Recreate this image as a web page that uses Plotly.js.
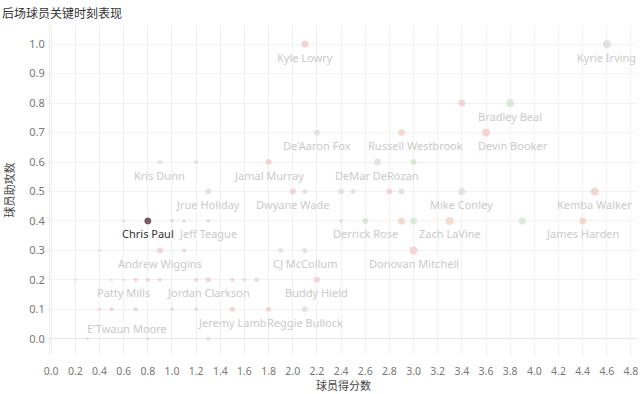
<!DOCTYPE html>
<html>
<head>
<meta charset="utf-8">
<script src="https://cdn.plot.ly/plotly-3.0.1.min.js"></script>
<style>html,body{margin:0;padding:0;background:#fff}#chart{width:640px;height:394px}</style>
</head>
<body>
<div id="chart"></div>
<script>
// Points: points scored (x) and assists (y), group for colour, size class
var pointX = [2.1,4.6, 3.4,3.8, 2.2,2.9,3.6,
  0.9,1.2,1.8,2.7,3.0,
  1.3,2.0,2.1,2.4,2.5,2.8,2.9,3.4,4.5,
  0.6,0.8,1.0,1.1,1.3,2.4,2.6,2.9,3.0,3.3,3.9,4.4,
  0.4,0.9,1.1,1.9,2.1,3.0,
  0.2,0.5,0.6,0.7,0.8,0.9,1.2,1.3,1.5,1.6,1.7,2.2,
  0.4,0.5,0.7,1.0,1.2,1.5,1.8,2.1,
  0.3,0.8,1.3];
var pointY = [1.0,1.0, 0.8,0.8, 0.7,0.7,0.7,
  0.6,0.6,0.6,0.6,0.6,
  0.5,0.5,0.5,0.5,0.5,0.5,0.5,0.5,0.5,
  0.4,0.4,0.4,0.4,0.4,0.4,0.4,0.4,0.4,0.4,0.4,0.4,
  0.3,0.3,0.3,0.3,0.3,0.3,
  0.2,0.2,0.2,0.2,0.2,0.2,0.2,0.2,0.2,0.2,0.2,0.2,
  0.1,0.1,0.1,0.1,0.1,0.1,0.1,0.1,
  0.0,0.0,0.0];
var pointGroup = ["pink","gray","pink","green","gray","salmon","pink",
  "gray","gray","pink","gray","green",
  "gray","pink","gray","gray","gray","pink","gray","gray","pink",
  "gray","dark","gray","gray","gray","gray","green","salmon","green","salmon","green","salmon",
  "gray","pink","pink","gray","gray","pink",
  "gray","gray","gray","pink","pink","pink","pink","pink","pink","gray","gray","pink",
  "pink","pink","pink","gray","gray","pink","pink","gray",
  "gray","gray","gray"];
var pointSize = [7,8,7,8,6,7,8,
  4,4,6,7,6,
  6,6,5,6,5,6,6,7,8,
  3,6,4,4,4,4,6,7,7,8,7,7,
  3,6,4,5,5,8,
  3,3,3,4,4,4,4,5,4,4,5,6,
  3,4,4,4,4,5,5,6,
  3,3,4];

// Player labels (anchored at the player's point)
var labelNames = ["Kyle Lowry","Kyrie Irving","Bradley Beal","De'Aaron Fox","Russell Westbrook","Devin Booker",
  "Kris Dunn","Jamal Murray","DeMar DeRozan","Jrue Holiday","Dwyane Wade","Mike Conley","Kemba Walker",
  "Chris Paul","Jeff Teague","Derrick Rose","Zach LaVine","James Harden",
  "Andrew Wiggins","CJ McCollum","Donovan Mitchell","Patty Mills","Jordan Clarkson","Buddy Hield",
  "Jeremy Lamb","Reggie Bullock","E'Twaun Moore"];
var labelX = [2.1,4.6,3.8,2.2,2.9,3.6,0.9,1.8,2.7,1.3,2.0,3.4,4.5,0.8,1.3,2.6,3.3,4.4,0.9,2.1,3.0,0.6,1.3,2.2,1.5,2.1,0.3];
var labelY = [1.0,1.0,0.8,0.7,0.7,0.7,0.6,0.6,0.6,0.5,0.5,0.5,0.5,0.4,0.4,0.4,0.4,0.4,0.3,0.3,0.3,0.2,0.2,0.2,0.1,0.1,0.0];

var xTicks = [0.0,0.2,0.4,0.6,0.8,1.0,1.2,1.4,1.6,1.8,2.0,2.2,2.4,2.6,2.8,3.0,3.2,3.4,3.6,3.8,4.0,4.2,4.4,4.6,4.8];
var yTicks = [0.0,0.1,0.2,0.3,0.4,0.5,0.6,0.7,0.8,0.9,1.0];

var groupColors = {pink:"#ecc4c7", gray:"#d9d9d9", green:"#cfdfcc", salmon:"#f1cdbd", dark:"#4b1c2c"};
var labelXShift = {"Russell Westbrook":14, "Devin Booker":27, "E'Twaun Moore":40};
var labelYShift = {"E'Twaun Moore":10};

var trace = {
  type:"scatter", mode:"markers",
  x: pointX, y: pointY,
  marker:{color: pointGroup.map(function(g){return groupColors[g];}), size: pointSize,
    line:{width: pointGroup.map(function(g){return g === "dark" ? 1 : 0;}), color:"#2a0f18"}},
  hoverinfo:"x+y"
};

var annotations = labelNames.map(function(n,i){
  var hi = n === "Chris Paul";
  return {x: labelX[i], y: labelY[i], xref:"x", yref:"y", text:n, showarrow:false,
    yshift: (n in labelYShift) ? labelYShift[n] : -13, xshift: labelXShift[n] || 0,
    font:{family:"Noto Sans, sans-serif", size:11, color: hi ? "#333333" : "#cacaca"}};
});
annotations.push({text:"后场球员关键时刻表现", xref:"paper", yref:"paper", x:0, y:1, xanchor:"left", yanchor:"middle",
  xshift:-50, yshift:13, showarrow:false, font:{family:"Noto Sans CJK SC, sans-serif", size:12, color:"#333"}});

var layout = {
  width:640, height:394,
  margin:{l:50, r:3, t:25, b:39},
  paper_bgcolor:"#fff", plot_bgcolor:"#fff",
  showlegend:false,
  xaxis:{range:[-0.01,4.85], tickvals:xTicks, ticktext:xTicks.map(function(v){return v.toFixed(1);}),
    showgrid:true, gridcolor:"#f1f1f1", gridwidth:1, zeroline:false, showline:false,
    tickfont:{family:"Noto Sans, sans-serif", size:10.5, color:"#777"}, ticks:"", ticklabelstandoff:8,
    title:{text:"球员得分数", font:{family:"Noto Sans CJK SC, sans-serif", size:11, color:"#444"}, standoff:4}},
  yaxis:{range:[-0.055,1.065], tickvals:yTicks, ticktext:yTicks.map(function(v){return v.toFixed(1);}),
    showgrid:true, gridcolor:"#f1f1f1", gridwidth:1, zeroline:true, zerolinecolor:"#e6e6e6", zerolinewidth:1,
    showline:true, linecolor:"#ececec", linewidth:1,
    tickfont:{family:"Noto Sans, sans-serif", size:11, color:"#777"}, ticks:"", ticklabelstandoff:2,
    title:{text:"球员助攻数", font:{family:"Noto Sans CJK SC, sans-serif", size:11, color:"#444"}, standoff:12}},
  annotations: annotations
};

Plotly.newPlot("chart", [trace], layout, {displayModeBar:false, staticPlot:true});
</script>
</body>
</html>
